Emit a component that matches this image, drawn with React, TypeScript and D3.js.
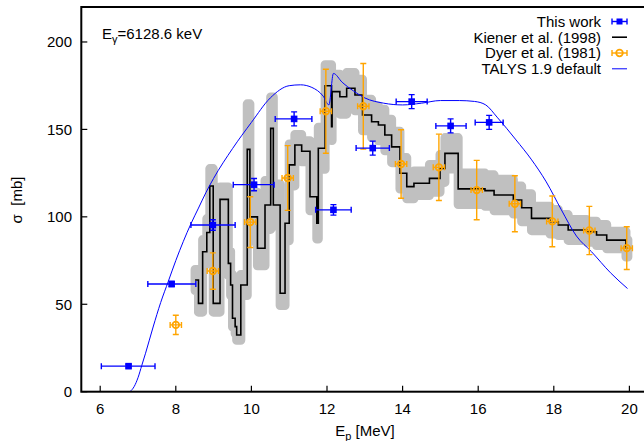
import React from 'react';
import * as d3 from 'd3';

// ---------- data ----------
const xTicks = [6, 8, 10, 12, 14, 16, 18, 20];
const yTicks = [0, 50, 100, 150, 200];

// This work
const workE = [6.75, 7.89, 8.98, 10.07, 11.13, 12.17, 13.21, 14.24, 15.27, 16.29];
const workELo = [6.03, 7.26, 8.4, 9.52, 10.63, 11.7, 12.77, 13.83, 14.88, 15.92];
const workEHi = [7.45, 8.53, 9.57, 10.6, 11.6, 12.64, 13.65, 14.65, 15.68, 16.66];
const workSigma = [14.6, 61.6, 95.3, 118.4, 156, 104, 139.3, 165.9, 152, 154];
const workErr = [1, 1.5, 3, 3.5, 4, 3, 4, 4, 4, 4];

// Kiener et al. (1998) step histogram (bin starts, last entry = end edge)
const kienerE = [8.51, 8.6, 8.71, 8.82, 8.9, 8.99, 9.17, 9.39, 9.45, 9.5, 9.57, 9.61, 9.72, 9.89, 9.96,
  10.16, 10.36, 10.51, 10.58, 10.76, 10.89, 11.0, 11.15, 11.33, 11.55, 11.73, 11.77, 11.95, 12.12, 12.135,
  12.34, 12.52, 12.74, 12.94, 13.18, 13.36, 13.53, 13.71, 13.93, 14.11, 14.3, 14.71, 14.99, 15.12, 15.47,
  16.18, 16.42, 16.93, 17.15, 17.41, 17.9, 18.12, 18.38, 18.87, 19.13, 19.4, 19.91, 19.96];
const kienerSigma = [63.9, 50.5, 80, 91, 117.6, 50.5, 110, 73.4, 61, 42, 37.2, 32.4, 61, 138.6, 100,
  82, 106.8, 150.6, 106.8, 56.3, 96.3, 129.7, 141.1, 137.5, 111.5, 96.3, 139.2, 175, 151.6, 171.6,
  168.7, 173.5, 169.7, 158.2, 154.4, 152.5, 146.8, 140, 124.9, 117.3, 119.2, 122, 127.7, 136.3, 116,
  115, 112.5, 109.6, 105.2, 99.1, 97.2, 95.3, 92.5, 91.5, 89.6, 86.7, 82, 82];
const kienerErr = [6, 5, 7, 8, 10, 5, 7, 7, 6, 5, 4, 3, 6, 26, 14,
  10, 14, 18, 12, 7, 10, 12, 6, 6, 8, 9, 12, 12, 8, 10,
  10, 9, 9, 9, 9, 9, 9, 9, 9, 7, 7, 8, 8, 9, 9,
  9, 9, 8, 8, 7, 7, 6, 6, 6, 6, 5, 5, 5];

// Dyer et al. (1981)
const dyerE = [8.0, 8.98, 9.97, 10.96, 11.97, 12.96, 13.96, 14.96, 15.96, 16.97, 17.96, 18.94, 19.93];
const dyerSigma = [38.2, 69, 97, 122.2, 160.4, 163.2, 130.2, 128.3, 115.3, 107.5, 97.4, 92.2, 82.1];
const dyerErr = [5.5, 10.4, 14.5, 18.5, 24, 24.5, 19.6, 19, 17, 16, 14.5, 13.8, 12.2];
const dyerXErr = 0.15;

// TALYS 1.9 default
const talysE = [6.79, 6.9, 7.0, 7.1, 7.2, 7.4, 7.6, 7.8, 8.0, 8.2, 8.4, 8.6, 8.8, 9.0, 9.5, 10.0, 10.5,
  11.0, 11.3, 11.6, 11.9, 12.05, 12.17, 12.4, 12.7, 13.0, 13.5, 14.0, 14.5, 15.0, 15.5, 15.9, 16.2, 16.5,
  17.0, 17.4, 17.8, 18.2, 18.6, 19.0, 19.5, 19.95];
const talysSigma = [0, 3, 8, 15, 22, 37, 51, 63, 75, 86, 96, 105, 114, 122, 139, 154, 168,
  175, 175.5, 174, 169, 164, 182, 177, 172, 168, 165, 164, 165, 166.5, 166.5, 166, 164, 157,
  144, 133, 120, 104, 89, 80, 68, 59];

const legendLabels = ['This work', 'Kiener et al. (1998)', 'Dyer et al. (1981)', 'TALYS 1.9 default'];

// ---------- layout ----------
const W = 644;
const H = 441;
const PL = 81.3, PR = 648.3, PT = 7, PB = 391.7;
const FONT = '"Liberation Sans", Arial, Helvetica, sans-serif';
const BLUE = '#0000ff';
const ORANGE = '#ffa500';
const GRAY = '#c0c0c0';

export default function App() {
  const x = d3.scaleLinear().domain([5.5, 20.5]).range([PL, PR]);
  const y = d3.scaleLinear().domain([0, 220]).range([PB, PT]);

  const kiener = kienerE.map((e, i) => ({ e, v: kienerSigma[i], err: kienerErr[i] }));
  const band = d3.area<any>()
    .x(d => x(d.e))
    .y0(d => y(d.v - d.err))
    .y1(d => y(d.v + d.err))
    .curve(d3.curveStepAfter)(kiener) || '';
  const step = d3.line<any>()
    .x(d => x(d.e))
    .y(d => y(d.v))
    .curve(d3.curveStepAfter)(kiener) || '';
  const talys = d3.line<number>()
    .x((_, i) => x(talysE[i]))
    .y(d => y(d))
    .curve(d3.curveMonotoneX)(talysSigma) || '';

  const cap = 3;
  const legendY = [21.5, 37.2, 53, 68.8];
  const lx0 = 612, lx1 = 627, lxm = 619.5;

  return (
    <svg width={W} height={H} style={{ position: 'absolute', left: 0, top: 0, display: 'block', background: '#fff' }}
      fontFamily={FONT} fontSize={15}>
      <defs>
        <clipPath id="plotclip">
          <rect x={PL} y={PT} width={PR - PL} height={PB - PT} />
        </clipPath>
      </defs>

      <g clipPath="url(#plotclip)">
        {/* Kiener uncertainty band */}
        <path d={band} fill={GRAY} stroke={GRAY} strokeWidth={9} strokeLinejoin="round" />
        {/* Kiener step line */}
        <path d={step} fill="none" stroke="#000" strokeWidth={1.6} />
        {/* TALYS */}
        <path d={talys} fill="none" stroke={BLUE} strokeWidth={1} />

        {/* Dyer */}
        {dyerE.map((e, i) => {
          const cx = x(e), cy = y(dyerSigma[i]);
          const x0 = x(e - dyerXErr), x1 = x(e + dyerXErr);
          const y0 = y(dyerSigma[i] - dyerErr[i]), y1 = y(dyerSigma[i] + dyerErr[i]);
          return (
            <g key={'d' + i} stroke={ORANGE} strokeWidth={1.4} fill="none">
              <line x1={cx} x2={cx} y1={y0} y2={y1} />
              <line x1={cx - cap} x2={cx + cap} y1={y0} y2={y0} />
              <line x1={cx - cap} x2={cx + cap} y1={y1} y2={y1} />
              <line x1={x0} x2={x1} y1={cy} y2={cy} />
              <line x1={x0} x2={x0} y1={cy - cap} y2={cy + cap} />
              <line x1={x1} x2={x1} y1={cy - cap} y2={cy + cap} />
              <circle cx={cx} cy={cy} r={3.3} strokeWidth={1.8} />
            </g>
          );
        })}

        {/* This work */}
        {workE.map((e, i) => {
          const cx = x(e), cy = y(workSigma[i]);
          const x0 = x(workELo[i]), x1 = x(workEHi[i]);
          const y0 = y(workSigma[i] - workErr[i]), y1 = y(workSigma[i] + workErr[i]);
          return (
            <g key={'w' + i} stroke={BLUE} strokeWidth={1.4}>
              <line x1={cx} x2={cx} y1={y0} y2={y1} />
              <line x1={cx - cap} x2={cx + cap} y1={y0} y2={y0} />
              <line x1={cx - cap} x2={cx + cap} y1={y1} y2={y1} />
              <line x1={x0} x2={x1} y1={cy} y2={cy} />
              <line x1={x0} x2={x0} y1={cy - cap} y2={cy + cap} />
              <line x1={x1} x2={x1} y1={cy - cap} y2={cy + cap} />
              <rect x={cx - 3.3} y={cy - 3.3} width={6.6} height={6.6} fill={BLUE} stroke="none" />
            </g>
          );
        })}
      </g>

      {/* frame */}
      <rect x={PL} y={PT} width={PR - PL} height={PB - PT} fill="none" stroke="#000" strokeWidth={2} />

      {/* ticks */}
      {xTicks.map(t => (
        <g key={'xt' + t}>
          <line x1={x(t)} x2={x(t)} y1={PB} y2={PB - 6} stroke="#000" strokeWidth={1.2} />
          <text x={x(t)} y={413.5} textAnchor="middle" fill="#000">{t}</text>
        </g>
      ))}
      {yTicks.map(t => (
        <g key={'yt' + t}>
          <line x1={PL} x2={PL + 6} y1={y(t)} y2={y(t)} stroke="#000" strokeWidth={1.2} />
          <text x={72} y={y(t) + 5.3} textAnchor="end" fill="#000">{t}</text>
        </g>
      ))}

      {/* axis labels */}
      <text x={365} y={436} textAnchor="middle" fill="#000">
        E<tspan fontSize={11} dy={4}>p</tspan><tspan dy={-4}> [MeV]</tspan>
      </text>
      <text transform="translate(22,200) rotate(-90)" textAnchor="middle" fill="#000">{'σ\u00a0\u00a0[mb]'}</text>

      {/* annotation */}
      <text x={102} y={39} fill="#000">
        E<tspan fontSize={11} dy={4}>γ</tspan><tspan dy={-4}>=6128.6 keV</tspan>
      </text>

      {/* legend */}
      {legendLabels.map((lab, i) => (
        <text key={'lt' + i} x={601} y={legendY[i] + 5.3} textAnchor="end" fill="#000">{lab}</text>
      ))}
      <g stroke={BLUE} strokeWidth={1.4}>
        <line x1={lx0} x2={lx1} y1={legendY[0]} y2={legendY[0]} />
        <line x1={lx0} x2={lx0} y1={legendY[0] - cap} y2={legendY[0] + cap} />
        <line x1={lx1} x2={lx1} y1={legendY[0] - cap} y2={legendY[0] + cap} />
        <rect x={lxm - 3} y={legendY[0] - 3} width={6} height={6} fill={BLUE} stroke="none" />
      </g>
      <line x1={lx0} x2={lx1} y1={legendY[1]} y2={legendY[1]} stroke="#000" strokeWidth={1.6} />
      <g stroke={ORANGE} strokeWidth={1.4} fill="none">
        <line x1={lx0} x2={lx1} y1={legendY[2]} y2={legendY[2]} />
        <line x1={lx0} x2={lx0} y1={legendY[2] - cap} y2={legendY[2] + cap} />
        <line x1={lx1} x2={lx1} y1={legendY[2] - cap} y2={legendY[2] + cap} />
        <circle cx={lxm} cy={legendY[2]} r={3.3} strokeWidth={1.8} />
      </g>
      <line x1={lx0} x2={lx1} y1={legendY[3]} y2={legendY[3]} stroke={BLUE} strokeWidth={1} />
    </svg>
  );
}
